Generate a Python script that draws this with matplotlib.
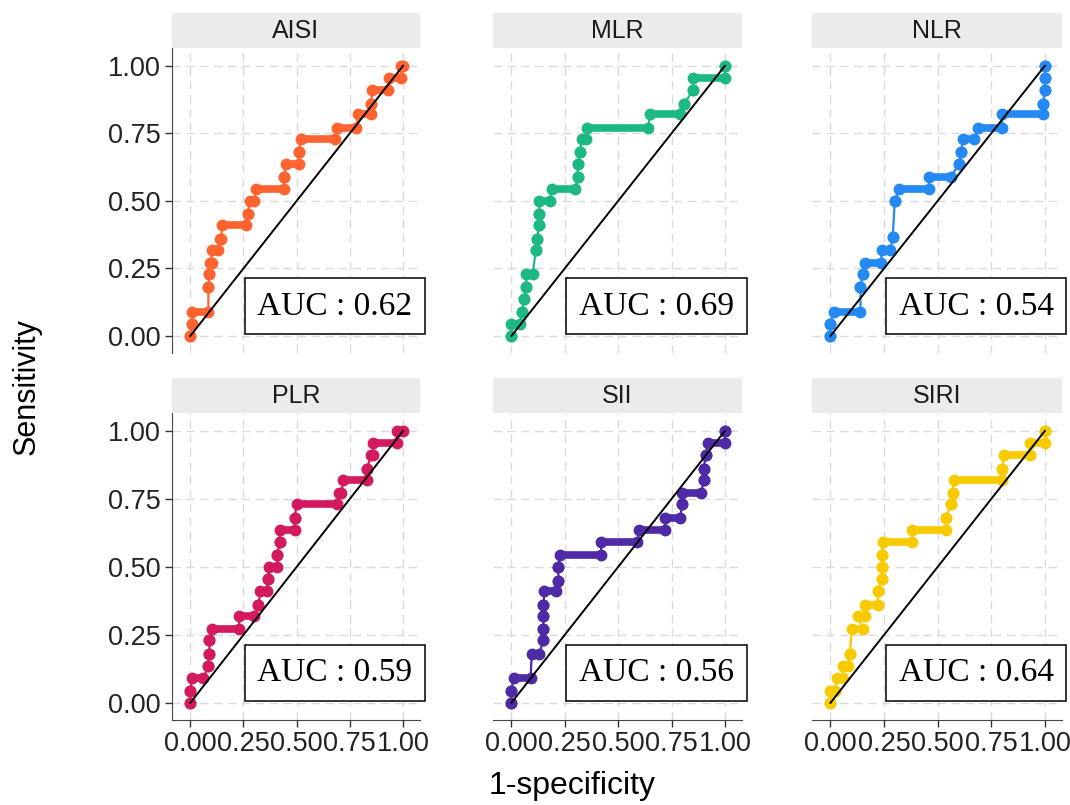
import matplotlib
matplotlib.use("Agg")
import matplotlib.pyplot as plt
from matplotlib.patches import Rectangle

plt.rcParams['font.family'] = ['Liberation Sans', 'DejaVu Sans']

# ROC step curves: each level of sensitivity with the 1-specificity span it covers
panels = ["AISI", "MLR", "NLR", "PLR", "SII", "SIRI"]
auc = [0.62, 0.69, 0.54, 0.59, 0.56, 0.64]
colors = ["#FF6330", "#1DB985", "#2489F2", "#D41A5E", "#4E2AA6", "#F7CB00"]

aisi_tpr = [0.00, 0.045, 0.09, 0.18, 0.23, 0.27, 0.32, 0.36, 0.41, 0.45, 0.50, 0.545, 0.59, 0.635, 0.68, 0.73, 0.77, 0.82, 0.86, 0.91, 0.955, 1.00]
aisi_x0 = [0.00, 0.01, 0.01, 0.085, 0.09, 0.095, 0.10, 0.14, 0.15, 0.27, 0.28, 0.31, 0.44, 0.45, 0.51, 0.52, 0.69, 0.79, 0.85, 0.855, 0.935, 0.99]
aisi_x1 = [0.00, 0.01, 0.085, 0.085, 0.09, 0.10, 0.13, 0.145, 0.26, 0.27, 0.30, 0.44, 0.44, 0.51, 0.51, 0.68, 0.78, 0.85, 0.85, 0.93, 0.99, 1.00]

mlr_tpr = [0.00, 0.045, 0.09, 0.136, 0.18, 0.23, 0.32, 0.36, 0.41, 0.45, 0.50, 0.545, 0.59, 0.635, 0.68, 0.73, 0.77, 0.82, 0.86, 0.91, 0.955, 1.00]
mlr_x0 = [0.00, 0.00, 0.05, 0.06, 0.07, 0.07, 0.115, 0.12, 0.13, 0.13, 0.13, 0.19, 0.31, 0.31, 0.32, 0.33, 0.355, 0.65, 0.81, 0.85, 0.85, 1.00]
mlr_x1 = [0.00, 0.04, 0.05, 0.06, 0.07, 0.10, 0.115, 0.12, 0.13, 0.13, 0.18, 0.30, 0.31, 0.31, 0.32, 0.35, 0.64, 0.79, 0.81, 0.85, 1.00, 1.00]

nlr_tpr = [0.00, 0.045, 0.09, 0.18, 0.23, 0.27, 0.32, 0.365, 0.50, 0.545, 0.59, 0.635, 0.68, 0.73, 0.77, 0.82, 0.86, 0.91, 0.955, 1.00]
nlr_x0 = [0.00, 0.00, 0.015, 0.14, 0.15, 0.16, 0.24, 0.29, 0.30, 0.32, 0.46, 0.60, 0.61, 0.62, 0.69, 0.80, 0.99, 1.00, 1.00, 1.00]
nlr_x1 = [0.00, 0.00, 0.14, 0.14, 0.15, 0.235, 0.28, 0.29, 0.30, 0.46, 0.56, 0.60, 0.61, 0.67, 0.80, 0.99, 0.99, 1.00, 1.00, 1.00]

plr_tpr = [0.00, 0.045, 0.09, 0.136, 0.18, 0.23, 0.27, 0.32, 0.36, 0.41, 0.455, 0.50, 0.545, 0.59, 0.635, 0.68, 0.73, 0.77, 0.82, 0.86, 0.91, 0.955, 1.00]
plr_x0 = [0.00, 0.00, 0.01, 0.085, 0.09, 0.09, 0.10, 0.23, 0.32, 0.33, 0.365, 0.37, 0.41, 0.42, 0.42, 0.49, 0.50, 0.70, 0.72, 0.83, 0.85, 0.86, 0.97]
plr_x1 = [0.00, 0.00, 0.06, 0.085, 0.09, 0.09, 0.23, 0.30, 0.32, 0.36, 0.365, 0.41, 0.41, 0.42, 0.49, 0.49, 0.69, 0.71, 0.83, 0.83, 0.86, 0.97, 1.00]

sii_tpr = [0.00, 0.045, 0.09, 0.18, 0.23, 0.27, 0.32, 0.36, 0.41, 0.45, 0.50, 0.545, 0.59, 0.635, 0.68, 0.73, 0.77, 0.82, 0.86, 0.91, 0.955, 1.00]
sii_x0 = [0.00, 0.00, 0.01, 0.095, 0.15, 0.15, 0.15, 0.15, 0.155, 0.22, 0.22, 0.23, 0.42, 0.60, 0.72, 0.80, 0.80, 0.90, 0.90, 0.91, 0.92, 1.00]
sii_x1 = [0.00, 0.00, 0.09, 0.13, 0.15, 0.15, 0.15, 0.15, 0.21, 0.22, 0.22, 0.42, 0.59, 0.72, 0.79, 0.80, 0.89, 0.90, 0.90, 0.91, 1.00, 1.00]

siri_tpr = [0.00, 0.045, 0.09, 0.136, 0.18, 0.27, 0.32, 0.36, 0.41, 0.455, 0.50, 0.545, 0.59, 0.635, 0.68, 0.73, 0.77, 0.82, 0.86, 0.91, 0.955, 1.00]
siri_x0 = [0.00, 0.00, 0.03, 0.06, 0.09, 0.10, 0.13, 0.16, 0.22, 0.24, 0.24, 0.24, 0.245, 0.38, 0.54, 0.56, 0.57, 0.575, 0.80, 0.81, 0.93, 1.00]
siri_x1 = [0.00, 0.02, 0.06, 0.08, 0.09, 0.15, 0.16, 0.22, 0.22, 0.24, 0.24, 0.24, 0.38, 0.54, 0.54, 0.56, 0.57, 0.80, 0.80, 0.93, 1.00, 1.00]

curves = [
    (aisi_tpr, aisi_x0, aisi_x1),
    (mlr_tpr, mlr_x0, mlr_x1),
    (nlr_tpr, nlr_x0, nlr_x1),
    (plr_tpr, plr_x0, plr_x1),
    (sii_tpr, sii_x0, sii_x1),
    (siri_tpr, siri_x0, siri_x1),
]

ticks = [0.0, 0.25, 0.5, 0.75, 1.0]
tick_labels = ["0.00", "0.25", "0.50", "0.75", "1.00"]

W, H = 1070, 805
col_px = [(172, 420), (493, 742), (812, 1062)]
row_px = [(48, 353), (413, 720)]
strip_h = 35

fig = plt.figure(figsize=(W / 100, H / 100), dpi=100)

for i, name in enumerate(panels):
    r, c = divmod(i, 3)
    x_left, x_right = col_px[c]
    y_top, y_bot = row_px[r]
    ax = fig.add_axes([x_left / W, 1 - y_bot / H, (x_right - x_left) / W, (y_bot - y_top) / H])
    ax.set_xlim(-0.086, 1.08)
    ax.set_ylim(-0.063, 1.066)

    # grid
    ax.set_xticks(ticks)
    ax.set_yticks(ticks)
    ax.grid(True, color="#DADADA", linestyle=(0, (6, 4)), linewidth=1.0)
    ax.set_axisbelow(True)

    tpr, x0, x1 = curves[i]
    col = colors[i]
    xs, ys = [], []
    for t, a, b in zip(tpr, x0, x1):
        xs += [a, b]
        ys += [t, t]
    ax.plot(xs, ys, color=col, lw=1.6, zorder=2)
    hl = ax.hlines(tpr, x0, x1, colors=col, lw=5.5, zorder=2)
    hl.set_capstyle("round")
    ax.plot(x0 + x1, tpr + tpr, "o", color=col, ms=7.5, zorder=3)

    ax.plot([0, 1], [0, 1], color="black", lw=1.4, zorder=4)

    ax.text(0.68, 0.11, "AUC : %.2f" % auc[i], ha="center", va="center",
            fontsize=24, family=["Liberation Serif", "DejaVu Serif"], zorder=5,
            bbox=dict(boxstyle="square,pad=0.38", facecolor="white", edgecolor="black", linewidth=1.1),
            clip_on=False)

    for s in ax.spines.values():
        s.set_visible(False)
    ax.tick_params(colors="#333333", labelcolor="#222222", labelsize=19.5, length=5, width=1.0, pad=3)
    if c == 0:
        ax.spines["left"].set_visible(True)
        ax.spines["left"].set_color("#444444")
        ax.set_yticklabels(tick_labels)
    else:
        ax.tick_params(axis="y", length=0, labelleft=False)
    if r == 1:
        ax.spines["bottom"].set_visible(True)
        ax.spines["bottom"].set_color("#444444")
        ax.set_xticklabels(tick_labels)
    else:
        ax.tick_params(axis="x", length=0, labelbottom=False)

    # facet strip
    sh = strip_h / (y_bot - y_top)
    ax.add_patch(Rectangle((0, 1), 1, sh, transform=ax.transAxes, facecolor="#EBEBEB",
                           edgecolor="none", clip_on=False))
    ax.text(0.5, 1 + sh / 2, name, transform=ax.transAxes, ha="center", va="center",
            fontsize=18, color="#1A1A1A")

fig.text(27 / W, 1 - 387 / H, "Sensitivity", rotation=90, ha="center", va="center", fontsize=22)
fig.text(572 / W, 1 - 786 / H, "1-specificity", ha="center", va="center", fontsize=23)

fig.savefig("out.png", dpi=100)
plt.close(fig)
